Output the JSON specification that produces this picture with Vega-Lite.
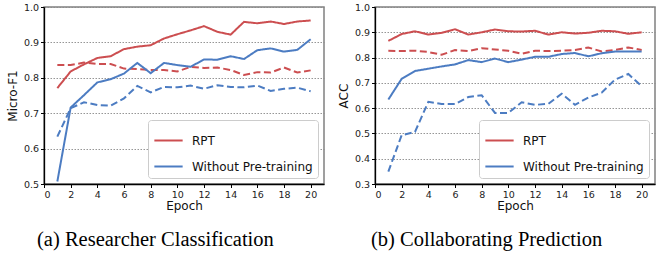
{
  "$schema": "https://vega.github.io/schema/vega-lite/v6.json",
  "padding": {"left": 5, "top": 1, "right": 5, "bottom": 0},
  "bounds": "flush",
  "spacing": 51,
  "background": "white",
  "config": {
    "font": "DejaVu Sans",
    "view": {"stroke": "#808080", "strokeWidth": 1.5},
    "axis": {
      "labelFont": "DejaVu Sans", "titleFont": "DejaVu Sans",
      "labelFontSize": 9.5, "titleFontSize": 12, "labelColor": "#222", "titleColor": "#111",
      "titleFontWeight": "normal",
      "domainColor": "#000", "domainWidth": 1.3, "tickColor": "#000", "tickSize": 3.5,
      "labelPadding": 2
    },
    "legend": {
      "labelFont": "DejaVu Sans", "labelFontSize": 12, "labelColor": "#111",
      "symbolType": "stroke", "symbolSize": 800, "symbolStrokeWidth": 2,
      "fillColor": "white", "strokeColor": "#cccccc", "cornerRadius": 3,
      "padding": 5, "rowPadding": 4, "offset": 6, "labelOffset": 8
    },
    "title": {"font": "Liberation Serif", "fontSize": 20.5, "fontWeight": "normal", "color": "#000"}
  },
  "datasets": {
    "pts": [
      {"panel":"a","epoch":1,"method":"RPT","style":"solid","value":0.771},
      {"panel":"a","epoch":2,"method":"RPT","style":"solid","value":0.818},
      {"panel":"a","epoch":3,"method":"RPT","style":"solid","value":0.838},
      {"panel":"a","epoch":4,"method":"RPT","style":"solid","value":0.856},
      {"panel":"a","epoch":5,"method":"RPT","style":"solid","value":0.861},
      {"panel":"a","epoch":6,"method":"RPT","style":"solid","value":0.881},
      {"panel":"a","epoch":7,"method":"RPT","style":"solid","value":0.888},
      {"panel":"a","epoch":8,"method":"RPT","style":"solid","value":0.892},
      {"panel":"a","epoch":9,"method":"RPT","style":"solid","value":0.911},
      {"panel":"a","epoch":10,"method":"RPT","style":"solid","value":0.923},
      {"panel":"a","epoch":11,"method":"RPT","style":"solid","value":0.934},
      {"panel":"a","epoch":12,"method":"RPT","style":"solid","value":0.946},
      {"panel":"a","epoch":13,"method":"RPT","style":"solid","value":0.930},
      {"panel":"a","epoch":14,"method":"RPT","style":"solid","value":0.922},
      {"panel":"a","epoch":15,"method":"RPT","style":"solid","value":0.958},
      {"panel":"a","epoch":16,"method":"RPT","style":"solid","value":0.954},
      {"panel":"a","epoch":17,"method":"RPT","style":"solid","value":0.959},
      {"panel":"a","epoch":18,"method":"RPT","style":"solid","value":0.952},
      {"panel":"a","epoch":19,"method":"RPT","style":"solid","value":0.959},
      {"panel":"a","epoch":20,"method":"RPT","style":"solid","value":0.962},

      {"panel":"a","epoch":1,"method":"RPT","style":"dashed","value":0.836},
      {"panel":"a","epoch":2,"method":"RPT","style":"dashed","value":0.836},
      {"panel":"a","epoch":3,"method":"RPT","style":"dashed","value":0.843},
      {"panel":"a","epoch":4,"method":"RPT","style":"dashed","value":0.839},
      {"panel":"a","epoch":5,"method":"RPT","style":"dashed","value":0.839},
      {"panel":"a","epoch":6,"method":"RPT","style":"dashed","value":0.826},
      {"panel":"a","epoch":7,"method":"RPT","style":"dashed","value":0.825},
      {"panel":"a","epoch":8,"method":"RPT","style":"dashed","value":0.822},
      {"panel":"a","epoch":9,"method":"RPT","style":"dashed","value":0.822},
      {"panel":"a","epoch":10,"method":"RPT","style":"dashed","value":0.818},
      {"panel":"a","epoch":11,"method":"RPT","style":"dashed","value":0.831},
      {"panel":"a","epoch":12,"method":"RPT","style":"dashed","value":0.828},
      {"panel":"a","epoch":13,"method":"RPT","style":"dashed","value":0.829},
      {"panel":"a","epoch":14,"method":"RPT","style":"dashed","value":0.822},
      {"panel":"a","epoch":15,"method":"RPT","style":"dashed","value":0.808},
      {"panel":"a","epoch":16,"method":"RPT","style":"dashed","value":0.816},
      {"panel":"a","epoch":17,"method":"RPT","style":"dashed","value":0.815},
      {"panel":"a","epoch":18,"method":"RPT","style":"dashed","value":0.829},
      {"panel":"a","epoch":19,"method":"RPT","style":"dashed","value":0.815},
      {"panel":"a","epoch":20,"method":"RPT","style":"dashed","value":0.821},

      {"panel":"a","epoch":1,"method":"Without Pre-training","style":"solid","value":0.507},
      {"panel":"a","epoch":2,"method":"Without Pre-training","style":"solid","value":0.716},
      {"panel":"a","epoch":3,"method":"Without Pre-training","style":"solid","value":0.751},
      {"panel":"a","epoch":4,"method":"Without Pre-training","style":"solid","value":0.787},
      {"panel":"a","epoch":5,"method":"Without Pre-training","style":"solid","value":0.796},
      {"panel":"a","epoch":6,"method":"Without Pre-training","style":"solid","value":0.812},
      {"panel":"a","epoch":7,"method":"Without Pre-training","style":"solid","value":0.842},
      {"panel":"a","epoch":8,"method":"Without Pre-training","style":"solid","value":0.813},
      {"panel":"a","epoch":9,"method":"Without Pre-training","style":"solid","value":0.842},
      {"panel":"a","epoch":10,"method":"Without Pre-training","style":"solid","value":0.836},
      {"panel":"a","epoch":11,"method":"Without Pre-training","style":"solid","value":0.831},
      {"panel":"a","epoch":12,"method":"Without Pre-training","style":"solid","value":0.852},
      {"panel":"a","epoch":13,"method":"Without Pre-training","style":"solid","value":0.851},
      {"panel":"a","epoch":14,"method":"Without Pre-training","style":"solid","value":0.861},
      {"panel":"a","epoch":15,"method":"Without Pre-training","style":"solid","value":0.853},
      {"panel":"a","epoch":16,"method":"Without Pre-training","style":"solid","value":0.878},
      {"panel":"a","epoch":17,"method":"Without Pre-training","style":"solid","value":0.883},
      {"panel":"a","epoch":18,"method":"Without Pre-training","style":"solid","value":0.874},
      {"panel":"a","epoch":19,"method":"Without Pre-training","style":"solid","value":0.879},
      {"panel":"a","epoch":20,"method":"Without Pre-training","style":"solid","value":0.909},

      {"panel":"a","epoch":1,"method":"Without Pre-training","style":"dashed","value":0.634},
      {"panel":"a","epoch":2,"method":"Without Pre-training","style":"dashed","value":0.714},
      {"panel":"a","epoch":3,"method":"Without Pre-training","style":"dashed","value":0.731},
      {"panel":"a","epoch":4,"method":"Without Pre-training","style":"dashed","value":0.723},
      {"panel":"a","epoch":5,"method":"Without Pre-training","style":"dashed","value":0.721},
      {"panel":"a","epoch":6,"method":"Without Pre-training","style":"dashed","value":0.742},
      {"panel":"a","epoch":7,"method":"Without Pre-training","style":"dashed","value":0.777},
      {"panel":"a","epoch":8,"method":"Without Pre-training","style":"dashed","value":0.759},
      {"panel":"a","epoch":9,"method":"Without Pre-training","style":"dashed","value":0.774},
      {"panel":"a","epoch":10,"method":"Without Pre-training","style":"dashed","value":0.773},
      {"panel":"a","epoch":11,"method":"Without Pre-training","style":"dashed","value":0.778},
      {"panel":"a","epoch":12,"method":"Without Pre-training","style":"dashed","value":0.769},
      {"panel":"a","epoch":13,"method":"Without Pre-training","style":"dashed","value":0.779},
      {"panel":"a","epoch":14,"method":"Without Pre-training","style":"dashed","value":0.774},
      {"panel":"a","epoch":15,"method":"Without Pre-training","style":"dashed","value":0.773},
      {"panel":"a","epoch":16,"method":"Without Pre-training","style":"dashed","value":0.778},
      {"panel":"a","epoch":17,"method":"Without Pre-training","style":"dashed","value":0.763},
      {"panel":"a","epoch":18,"method":"Without Pre-training","style":"dashed","value":0.769},
      {"panel":"a","epoch":19,"method":"Without Pre-training","style":"dashed","value":0.772},
      {"panel":"a","epoch":20,"method":"Without Pre-training","style":"dashed","value":0.762},

      {"panel":"b","epoch":1,"method":"RPT","style":"solid","value":0.866},
      {"panel":"b","epoch":2,"method":"RPT","style":"solid","value":0.893},
      {"panel":"b","epoch":3,"method":"RPT","style":"solid","value":0.904},
      {"panel":"b","epoch":4,"method":"RPT","style":"solid","value":0.891},
      {"panel":"b","epoch":5,"method":"RPT","style":"solid","value":0.898},
      {"panel":"b","epoch":6,"method":"RPT","style":"solid","value":0.912},
      {"panel":"b","epoch":7,"method":"RPT","style":"solid","value":0.891},
      {"panel":"b","epoch":8,"method":"RPT","style":"solid","value":0.900},
      {"panel":"b","epoch":9,"method":"RPT","style":"solid","value":0.911},
      {"panel":"b","epoch":10,"method":"RPT","style":"solid","value":0.904},
      {"panel":"b","epoch":11,"method":"RPT","style":"solid","value":0.903},
      {"panel":"b","epoch":12,"method":"RPT","style":"solid","value":0.906},
      {"panel":"b","epoch":13,"method":"RPT","style":"solid","value":0.891},
      {"panel":"b","epoch":14,"method":"RPT","style":"solid","value":0.900},
      {"panel":"b","epoch":15,"method":"RPT","style":"solid","value":0.895},
      {"panel":"b","epoch":16,"method":"RPT","style":"solid","value":0.898},
      {"panel":"b","epoch":17,"method":"RPT","style":"solid","value":0.906},
      {"panel":"b","epoch":18,"method":"RPT","style":"solid","value":0.904},
      {"panel":"b","epoch":19,"method":"RPT","style":"solid","value":0.894},
      {"panel":"b","epoch":20,"method":"RPT","style":"solid","value":0.900},

      {"panel":"b","epoch":1,"method":"RPT","style":"dashed","value":0.827},
      {"panel":"b","epoch":2,"method":"RPT","style":"dashed","value":0.826},
      {"panel":"b","epoch":3,"method":"RPT","style":"dashed","value":0.827},
      {"panel":"b","epoch":4,"method":"RPT","style":"dashed","value":0.822},
      {"panel":"b","epoch":5,"method":"RPT","style":"dashed","value":0.811},
      {"panel":"b","epoch":6,"method":"RPT","style":"dashed","value":0.830},
      {"panel":"b","epoch":7,"method":"RPT","style":"dashed","value":0.826},
      {"panel":"b","epoch":8,"method":"RPT","style":"dashed","value":0.837},
      {"panel":"b","epoch":9,"method":"RPT","style":"dashed","value":0.832},
      {"panel":"b","epoch":10,"method":"RPT","style":"dashed","value":0.827},
      {"panel":"b","epoch":11,"method":"RPT","style":"dashed","value":0.815},
      {"panel":"b","epoch":12,"method":"RPT","style":"dashed","value":0.827},
      {"panel":"b","epoch":13,"method":"RPT","style":"dashed","value":0.826},
      {"panel":"b","epoch":14,"method":"RPT","style":"dashed","value":0.827},
      {"panel":"b","epoch":15,"method":"RPT","style":"dashed","value":0.830},
      {"panel":"b","epoch":16,"method":"RPT","style":"dashed","value":0.840},
      {"panel":"b","epoch":17,"method":"RPT","style":"dashed","value":0.824},
      {"panel":"b","epoch":18,"method":"RPT","style":"dashed","value":0.830},
      {"panel":"b","epoch":19,"method":"RPT","style":"dashed","value":0.840},
      {"panel":"b","epoch":20,"method":"RPT","style":"dashed","value":0.830},

      {"panel":"b","epoch":1,"method":"Without Pre-training","style":"solid","value":0.634},
      {"panel":"b","epoch":2,"method":"Without Pre-training","style":"solid","value":0.716},
      {"panel":"b","epoch":3,"method":"Without Pre-training","style":"solid","value":0.747},
      {"panel":"b","epoch":4,"method":"Without Pre-training","style":"solid","value":0.756},
      {"panel":"b","epoch":5,"method":"Without Pre-training","style":"solid","value":0.765},
      {"panel":"b","epoch":6,"method":"Without Pre-training","style":"solid","value":0.773},
      {"panel":"b","epoch":7,"method":"Without Pre-training","style":"solid","value":0.790},
      {"panel":"b","epoch":8,"method":"Without Pre-training","style":"solid","value":0.782},
      {"panel":"b","epoch":9,"method":"Without Pre-training","style":"solid","value":0.796},
      {"panel":"b","epoch":10,"method":"Without Pre-training","style":"solid","value":0.782},
      {"panel":"b","epoch":11,"method":"Without Pre-training","style":"solid","value":0.792},
      {"panel":"b","epoch":12,"method":"Without Pre-training","style":"solid","value":0.803},
      {"panel":"b","epoch":13,"method":"Without Pre-training","style":"solid","value":0.803},
      {"panel":"b","epoch":14,"method":"Without Pre-training","style":"solid","value":0.814},
      {"panel":"b","epoch":15,"method":"Without Pre-training","style":"solid","value":0.818},
      {"panel":"b","epoch":16,"method":"Without Pre-training","style":"solid","value":0.805},
      {"panel":"b","epoch":17,"method":"Without Pre-training","style":"solid","value":0.817},
      {"panel":"b","epoch":18,"method":"Without Pre-training","style":"solid","value":0.824},
      {"panel":"b","epoch":19,"method":"Without Pre-training","style":"solid","value":0.824},
      {"panel":"b","epoch":20,"method":"Without Pre-training","style":"solid","value":0.824},

      {"panel":"b","epoch":1,"method":"Without Pre-training","style":"dashed","value":0.349},
      {"panel":"b","epoch":2,"method":"Without Pre-training","style":"dashed","value":0.493},
      {"panel":"b","epoch":3,"method":"Without Pre-training","style":"dashed","value":0.506},
      {"panel":"b","epoch":4,"method":"Without Pre-training","style":"dashed","value":0.625},
      {"panel":"b","epoch":5,"method":"Without Pre-training","style":"dashed","value":0.616},
      {"panel":"b","epoch":6,"method":"Without Pre-training","style":"dashed","value":0.616},
      {"panel":"b","epoch":7,"method":"Without Pre-training","style":"dashed","value":0.644},
      {"panel":"b","epoch":8,"method":"Without Pre-training","style":"dashed","value":0.651},
      {"panel":"b","epoch":9,"method":"Without Pre-training","style":"dashed","value":0.581},
      {"panel":"b","epoch":10,"method":"Without Pre-training","style":"dashed","value":0.581},
      {"panel":"b","epoch":11,"method":"Without Pre-training","style":"dashed","value":0.623},
      {"panel":"b","epoch":12,"method":"Without Pre-training","style":"dashed","value":0.613},
      {"panel":"b","epoch":13,"method":"Without Pre-training","style":"dashed","value":0.617},
      {"panel":"b","epoch":14,"method":"Without Pre-training","style":"dashed","value":0.657},
      {"panel":"b","epoch":15,"method":"Without Pre-training","style":"dashed","value":0.613},
      {"panel":"b","epoch":16,"method":"Without Pre-training","style":"dashed","value":0.642},
      {"panel":"b","epoch":17,"method":"Without Pre-training","style":"dashed","value":0.661},
      {"panel":"b","epoch":18,"method":"Without Pre-training","style":"dashed","value":0.713},
      {"panel":"b","epoch":19,"method":"Without Pre-training","style":"dashed","value":0.735},
      {"panel":"b","epoch":20,"method":"Without Pre-training","style":"dashed","value":0.687}
    ]
  },
  "hconcat": [
    {
      "width": 280, "height": 177,
      "title": {"text": "(a)  Researcher Classification", "orient": "bottom", "anchor": "start", "frame": "group", "dx": -7, "offset": 19},
      "data": {"name": "pts"},
      "transform": [{"filter": "datum.panel === 'a'"}],
      "mark": {"type": "line", "strokeWidth": 2, "clip": true},
      "encoding": {
        "x": {"field": "epoch", "type": "quantitative", "scale": {"domain": [0, 21], "nice": false},
              "axis": {"title": "Epoch", "values": [0,2,4,6,8,10,12,14,16,18,20], "grid": false, "titlePadding": 1}},
        "y": {"field": "value", "type": "quantitative", "scale": {"domain": [0.5, 1.0], "nice": false, "zero": false},
              "axis": {"title": "Micro-F1", "values": [0.5,0.6,0.7,0.8,0.9,1.0], "format": ".1f", "grid": true,
                       "gridColor": "#8a8a8a", "gridDash": [1.5, 1.5], "gridWidth": 0.9, "titlePadding": 4}},
        "color": {"field": "method", "type": "nominal",
                  "scale": {"domain": ["RPT", "Without Pre-training"], "range": ["#cc4e50", "#4c7cc2"]},
                  "legend": {"title": null, "orient": "bottom-right"}},
        "strokeDash": {"field": "style", "type": "nominal",
                       "scale": {"domain": ["solid", "dashed"], "range": [[1, 0], [7, 3.5]]}, "legend": null}
      }
    },
    {
      "width": 280, "height": 177,
      "title": {"text": "(b)  Collaborating Prediction", "orient": "bottom", "anchor": "start", "frame": "group", "dx": -4, "offset": 19},
      "data": {"name": "pts"},
      "transform": [{"filter": "datum.panel === 'b'"}],
      "mark": {"type": "line", "strokeWidth": 2, "clip": true},
      "encoding": {
        "x": {"field": "epoch", "type": "quantitative", "scale": {"domain": [0, 21], "nice": false},
              "axis": {"title": "Epoch", "values": [0,2,4,6,8,10,12,14,16,18,20], "grid": false, "titlePadding": 1}},
        "y": {"field": "value", "type": "quantitative", "scale": {"domain": [0.3, 1.0], "nice": false, "zero": false},
              "axis": {"title": "ACC", "values": [0.3,0.4,0.5,0.6,0.7,0.8,0.9,1.0], "format": ".1f", "grid": true,
                       "gridColor": "#8a8a8a", "gridDash": [1.5, 1.5], "gridWidth": 0.9, "titlePadding": 4}},
        "color": {"field": "method", "type": "nominal",
                  "scale": {"domain": ["RPT", "Without Pre-training"], "range": ["#cc4e50", "#4c7cc2"]},
                  "legend": {"title": null, "orient": "bottom-right"}},
        "strokeDash": {"field": "style", "type": "nominal",
                       "scale": {"domain": ["solid", "dashed"], "range": [[1, 0], [7, 3.5]]}, "legend": null}
      }
    }
  ],
  "resolve": {"scale": {"color": "independent", "y": "independent", "strokeDash": "independent"}, "legend": {"color": "independent"}}
}
